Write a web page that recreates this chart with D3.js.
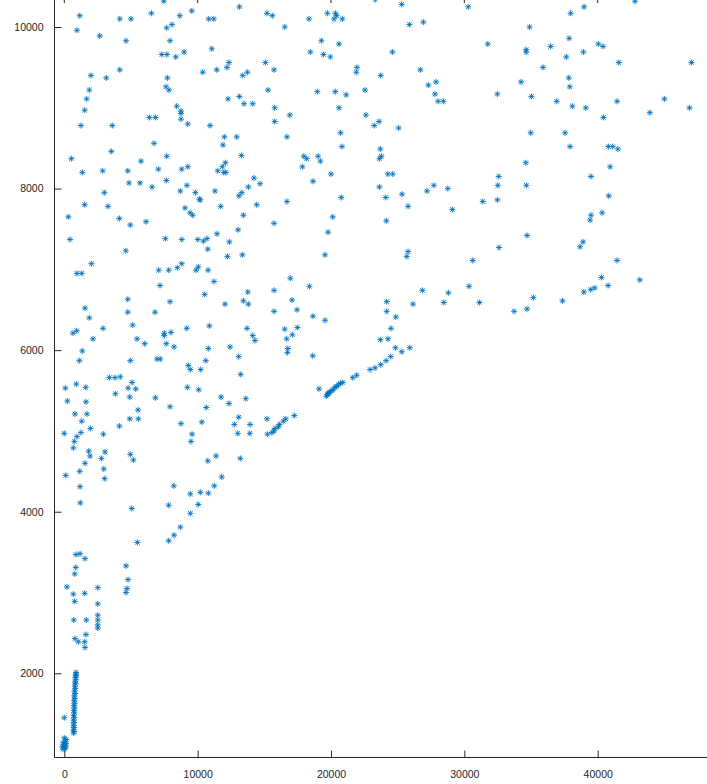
<!DOCTYPE html>
<html>
<head>
<meta charset="utf-8">
<script src="https://cdn.jsdelivr.net/npm/d3@7"></script>
<style>
  body { margin: 0; background: #fff; }
  svg { display: block; }
  .tick text { font-family: "Liberation Sans", Arial, sans-serif; font-size: 10.5px; fill: #262626; }
  .domain, .tick line { stroke: #262626; }
</style>
</head>
<body>
<script>
// tick values
const xTicks = [0, 10000, 20000, 30000, 40000];
const yTicks = [2000, 4000, 6000, 8000, 10000];

// points, grouped by region
const pointsTopLeft = [
  [7460,10320],[1160,10140],[4160,10100],[5000,10100],[6530,10170],[8660,10140],[9560,10200],
  [10830,10100],[11210,10100],[13130,10250],[15200,10170],[15600,10140],[950,9960],[2660,9890],
  [4630,9830],[7680,9990],[8080,10030],[7930,9830],[7310,9660],[7700,9660],[8360,9630],[8980,9690],
  [11060,9730],[15080,9560],[15730,9470],[12350,9560],[12200,9500],[11430,9470],[10380,9440],
  [13380,9400],[13730,9440],[2000,9400],[3150,9370],[4160,9470],[7730,9370],[7630,9260],[7850,9220],
  [1880,9220],[1680,9110],[1530,8970],[1250,8780],[3600,8780],[6380,8880],[6830,8880],[8430,9020],
  [8750,8960],[8750,8930],[8750,8860],[9260,8800],[10930,8780],[12280,9110],[13130,9140],
  [13480,9050],[14130,9050],[15280,9220],[15780,9000],[15780,8830],[12000,8640],[12930,8640],
  [11900,8540],[13280,8410],[6730,8560],[3530,8460],[530,8370],[7680,8400],[5750,8340],[1350,8200],
  [2880,8220],[4760,8220],[7050,8240],[8810,8240],[9260,8270],[11510,8220],[11850,8270],[12080,8320],
  [11960,8200],[12110,8200],[4850,8070],[5680,8070],[6580,8020],[7650,8100],[3000,7950],[1530,7800],
  [3280,7780],[8700,7970],[9200,8040],[9830,7950],[10130,7870],[10200,7860],[11300,7970],[13100,7910],
  [13310,7950],[13800,8020],[14230,8130],[14680,8060],[14430,7800],[11730,7780],[9050,7760],
  [9430,7700],[9630,7670],[300,7650],[4130,7630],[4950,7550],[6130,7590],[13430,7670],[15730,7570],
  [13030,7490],[430,7370],[7580,7380],[8810,7370],[10010,7370],[10430,7350],[10700,7380],[11450,7440],
  [12380,7340],[10760,7250],[4610,7230],[12230,7160],[13350,7180],[2030,7070],[950,6950],[1310,6950],
  [7080,6990],[7830,6990],[8480,7020],[8810,7070],[10050,7030],[9880,6990],[10780,6990],[7180,6800],
  [11230,6850],[10530,6690],[13760,6720],[13430,6610],[13800,6570],[12050,6570],[15730,6740],
  [15730,6480],[7930,6600],[4760,6630],[1550,6520],[4760,6470],[6800,6470],[1880,6400],[650,6210],
  [930,6240],[2900,6270],[5130,6310],[7500,6210],[7500,6180],[8000,6220],[9180,6270],[10880,6300],
  [13700,6270],[14130,6180],[14300,6120],[2150,6140],[5450,6140],[6030,6080],[7650,6080],[8230,6040],
  [10800,6020],[12430,6040],[1350,5990],[1130,5870],[4950,5870],[6950,5890],[7200,5890],[9300,5810],
  [9450,5760],[10230,5760],[10610,5870],[13080,5920],[13230,5700],[3380,5660],[3800,5660],[4200,5670]
];

const pointsLowLeft = [
  [80,5530],[900,5580],[1610,5540],[4780,5530],[5080,5600],[5360,5520],[3830,5460],[4910,5420],
  [6830,5410],[9230,5540],[10080,5510],[7930,5300],[11750,5420],[12350,5340],[13610,5400],
  [10650,5290],[230,5370],[1630,5360],[800,5210],[1700,5210],[1310,5120],[5530,5260],[4910,5150],
  [5550,5150],[4130,5060],[0,4970],[950,4930],[1250,4980],[750,4870],[680,4790],[1950,5030],
  [2930,4960],[8750,5090],[10310,5110],[9580,4960],[9500,4870],[13080,5170],[12750,5080],
  [13930,5080],[13010,4970],[13910,4970],[15200,5150],[15230,4960],[15730,5000],[1830,4750],
  [1930,4690],[2780,4660],[3050,4740],[4950,4710],[5180,4640],[1550,4600],[1160,4500],[110,4450],
  [2960,4530],[3030,4410],[10760,4630],[11380,4690],[13200,4660],[11810,4430],[8210,4320],
  [1180,4310],[1200,4110],[9450,4220],[10200,4240],[10800,4230],[11250,4320],[5060,4040],[7830,4080],
  [9450,3980],[10050,4090],[8700,3810],[8230,3710],[7830,3640],[5480,3620],[880,3470],[1180,3480],
  [1550,3420],[860,3310],[780,3230],[4630,3330],[4780,3160],[4700,3050],[4630,3000],[200,3070],
  [2510,3060],[680,2980],[1530,2990],[780,2890],[2510,2860],[710,2660],[1650,2660],[2510,2720],
  [2510,2660],[2510,2600],[2510,2560],[1630,2480],[1530,2390],[1550,2320],[1050,2390],[800,2430]
];

const pointsColumn = [
  [880,2010],[850,1990],[900,1970],[820,1950],[870,1920],[800,1890],[850,1870],[780,1840],
  [830,1810],[760,1780],[810,1750],[740,1720],[790,1690],[730,1660],[780,1630],[720,1600],
  [770,1570],[710,1540],[760,1510],[700,1480],[750,1450],[690,1420],[740,1390],[680,1360],
  [730,1330],[690,1300],[720,1280],[700,1260],[0,1450],
  [-100,1060],[0,1080],[100,1100],[-50,1120],[50,1150],[150,1180],[0,1200],[-80,1140],[80,1070],
  [-150,1090],[120,1130]
];

const pointsMiddle = [
  [23320,10340],[25300,10280],[30290,10250],[16530,10000],[18350,10100],[19730,10170],[20330,10170],
  [20430,10140],[20230,10100],[20850,10100],[25880,10030],[26930,10060],[19280,9830],[20600,9790],
  [18450,9690],[19430,9660],[19950,9630],[24600,9690],[31760,9790],[21950,9500],[21900,9440],
  [23730,9400],[26700,9470],[27300,9280],[27880,9320],[27800,9170],[28030,9080],[28430,9080],
  [18970,9200],[20320,9200],[21140,9160],[22550,9220],[16910,8910],[20600,9000],[22620,8910],
  [23240,8780],[23610,8830],[25070,8750],[16700,8640],[20720,8690],[20820,8520],[23700,8490],
  [23780,8400],[23630,8370],[17960,8400],[18180,8370],[17850,8270],[19030,8400],[19200,8340],
  [20000,8180],[18650,8090],[24260,8180],[24630,8180],[23630,8020],[24110,7890],[25330,7930],
  [25780,7780],[27200,7970],[27710,8040],[28760,8000],[29100,7740],[31380,7840],[16700,7840],
  [20770,7890],[20130,7650],[19780,7460],[24150,7600],[19550,7180],[25780,7220],[25680,7160],
  [30630,7110],[16950,6890],[18380,6790],[26850,6740],[28800,6710],[30350,6790],[28460,6590],
  [31130,6590],[26150,6570],[24180,6600],[24180,6480],[24860,6410],[24500,6270],[23700,6130],
  [24280,6140],[24830,6030],[25310,5980],[25910,6030],[24480,5920],[24130,5870],[23730,5820],
  [23300,5780],[22930,5760],[21930,5690],[21630,5660],[17080,6620],[17450,6500],[18650,6420],
  [19550,6370],[17480,6280],[17100,6190],[16530,6260],[16680,6140],[16760,6020],[16730,5970],
  [18630,5930],[19100,5520],[19730,5450],[19830,5470],[20060,5500],[20300,5540],[20550,5570],
  [20880,5600],[19650,5430],[19780,5460],[19900,5480],[20150,5510],[20400,5550],[20700,5590],
  [17250,5190],[16610,5150],[16430,5120],[16130,5080],[16050,5050],[15800,5030],[15560,4980]
];

const pointsRight = [
  [38980,10250],[42800,10320],[37970,10170],[34890,10000],[34640,9720],[34640,9690],[36470,9760],
  [37860,9860],[37650,9630],[38930,9690],[40050,9790],[40400,9760],[41580,9560],[47030,9560],
  [35900,9500],[34250,9320],[37830,9370],[37910,9260],[32480,9170],[35030,9140],[36930,9080],
  [38100,9020],[39110,9000],[40430,8880],[41450,9080],[43910,8940],[45000,9110],[46880,9000],
  [34980,8690],[37550,8690],[37930,8520],[40800,8520],[41130,8520],[41510,8490],[34610,8320],
  [40930,8270],[32580,8150],[32510,8040],[32480,7860],[34650,8040],[39500,8150],[40830,7910],
  [39500,7670],[39430,7610],[40330,7700],[34700,7420],[32600,7270],[38900,7340],[38680,7280],
  [41450,7110],[40280,6900],[40780,6800],[39780,6770],[39480,6750],[38960,6720],[43160,6870],
  [35180,6650],[37360,6610],[34700,6510],[33730,6480]
];

const allPoints = [].concat(pointsTopLeft, pointsLowLeft, pointsColumn, pointsMiddle, pointsRight);

const width = 707, height = 784;
const svg = d3.select('body').append('svg')
  .attr('width', width).attr('height', height);

// scales pinned to the tick positions seen in the picture
const x = d3.scaleLinear().domain([0, 40000]).range([64.3, 597.7]);
const y = d3.scaleLinear().domain([2000, 10000]).range([673.3, 27]);

const left = 54.5, bottom = 757.5;

// bottom axis
const gx = svg.append('g').attr('transform', `translate(0,${bottom})`)
  .call(d3.axisBottom(x).tickValues(xTicks).tickFormat(d3.format('d')).tickSizeInner(-7).tickSizeOuter(0).tickPadding(13));
gx.select('.domain').attr('d', `M${left},0H${width}`);

// left axis
const gy = svg.append('g').attr('transform', `translate(${left},0)`)
  .call(d3.axisLeft(y).tickValues(yTicks).tickFormat(d3.format('d')).tickSizeInner(-7).tickSizeOuter(0).tickPadding(11));
gy.select('.domain').attr('d', `M0,0V${bottom}`);

// top ticks (box edge sits just above the window)
svg.append('g').selectAll('line').data(xTicks).enter().append('line')
  .attr('x1', d => x(d)).attr('x2', d => x(d))
  .attr('y1', -4).attr('y2', 3)
  .attr('stroke', '#262626');

// asterisk markers
const r = 3, dg = 2.2;
const star = `M${-r},0H${r}M0,${-r}V${r}M${-dg},${-dg}L${dg},${dg}M${-dg},${dg}L${dg},${-dg}`;
svg.append('g').attr('class', 'points')
  .selectAll('path').data(allPoints).enter().append('path')
  .attr('transform', d => `translate(${x(d[0])},${y(d[1])})`)
  .attr('d', star)
  .attr('fill', 'none')
  .attr('stroke', '#0072BD')
  .attr('stroke-width', 0.9);
</script>
</body>
</html>
